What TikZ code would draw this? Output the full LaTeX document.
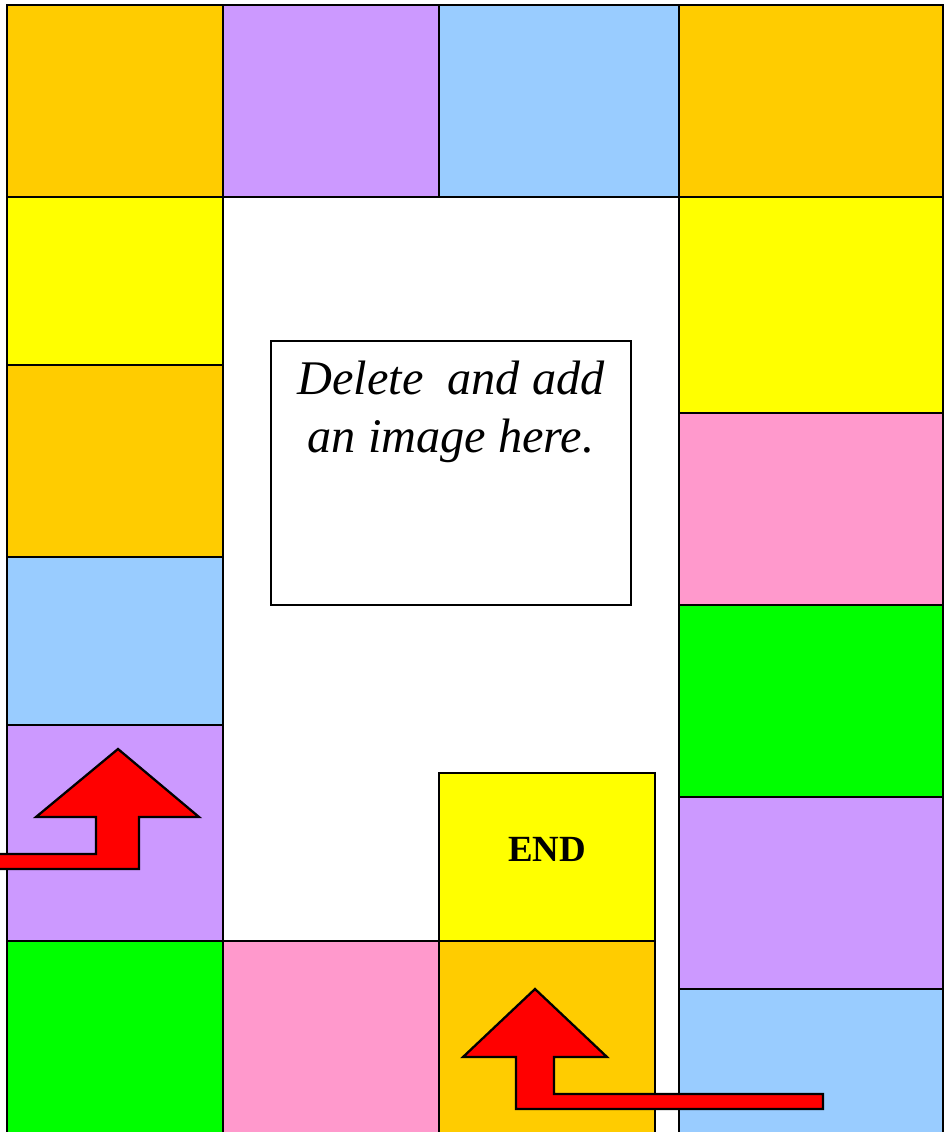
\documentclass[tikz,border=0pt]{standalone}
\usepackage{fontspec}
\setmainfont{Liberation Serif}
\usetikzlibrary{positioning}
\definecolor{tileorange}{HTML}{FFCC00}
\definecolor{tilepurple}{HTML}{CC99FF}
\definecolor{tileblue}{HTML}{99CCFF}
\definecolor{tileyellow}{HTML}{FFFF00}
\definecolor{tilepink}{HTML}{FF99CC}
\definecolor{tilegreen}{HTML}{00FF00}
\definecolor{arrowred}{HTML}{FF0000}
\begin{document}
\begin{tikzpicture}[
x=0.02cm, y=-0.02cm,
tile/.style={draw=black, line width=1.3pt},
bigarrow/.style={draw=black, line width=1.3pt, fill=arrowred, line join=miter},
note/.style={font=\fontsize{27.5}{33}\selectfont\itshape, anchor=base, inner sep=0pt},
goal/.style={font=\fontsize{21}{25}\selectfont\bfseries, anchor=base, inner sep=0pt}
]
\useasboundingbox (0,0) rectangle (945,1132);
\clip (0,0) rectangle (945,1132);
% board tiles: x1/y1/x2/y2/colour
\foreach \xa/\ya/\xb/\yb/\col in {
  7/5/223/197/tileorange, 223/5/439/197/tilepurple,
  439/5/679/197/tileblue, 679/5/943/197/tileorange,
  7/197/223/365/tileyellow, 7/365/223/557/tileorange,
  7/557/223/725/tileblue, 7/725/223/941/tilepurple,
  7/941/223/1150/tilegreen, 223/941/439/1150/tilepink,
  439/941/655/1150/tileorange, 439/773/655/941/tileyellow,
  679/197/943/413/tileyellow, 679/413/943/605/tilepink,
  679/605/943/797/tilegreen, 679/797/943/989/tilepurple,
  679/989/943/1150/tileblue}
  \draw[tile, fill=\col] (\xa,\ya) rectangle (\xb,\yb);
% picture placeholder
\draw[tile, fill=white] (271,341) rectangle (631,605);
\node[note] (line1) at (451,394) {Delete\ \ and add};
\node[note] (line2) at (451,452) {an image here.};
\node[goal] (endlbl) at (547,861) {END};
% arrows
\draw[bigarrow] (-10,854) -- (96,854) -- (96,817) -- (36,817) -- (118,749)
  -- (199,817) -- (139,817) -- (139,869) -- (-10,869) -- cycle;
\draw[bigarrow] (823,1094) -- (554,1094) -- (554,1057) -- (607,1057) -- (535,989)
  -- (463,1057) -- (516,1057) -- (516,1109) -- (823,1109) -- cycle;
\end{tikzpicture}
\end{document}
